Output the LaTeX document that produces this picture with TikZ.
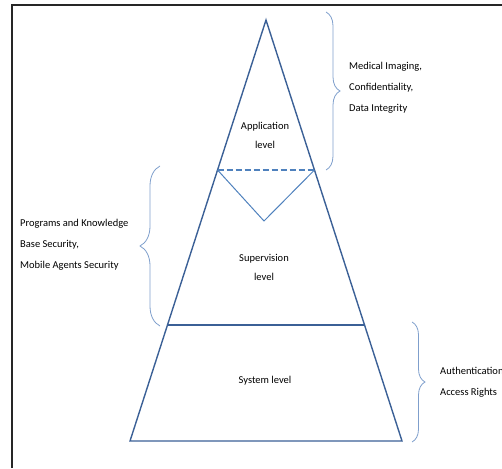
\documentclass[tikz,border=0pt]{standalone}
\usepackage{fontspec}
\setmainfont{Carlito}
\usetikzlibrary{calc,decorations.pathreplacing}
\definecolor{edge}{HTML}{3B6096}
\definecolor{lightedge}{HTML}{4F81BD}
\definecolor{bracecol}{HTML}{7F9FCC}
\tikzset{
  side/.style={draw=edge, line width=1.4pt, line join=miter},
  lvl/.style={font=\fontsize{10.5}{19}\selectfont, align=center, inner sep=0pt},
  note/.style={font=\fontsize{10.5}{21}\selectfont, align=left, anchor=west, inner sep=0pt},
  bracket/.style={draw=bracecol, line width=0.8pt, decorate, decoration={brace, amplitude=#1}},
  frame/.style={draw=black!85, line width=2pt}
}
\begin{document}
\begin{tikzpicture}[x=1pt, y=-1pt]
  \useasboundingbox (0,0) rectangle (502,468);
  % page frame
  \draw[frame] (12,468) -- (12,5) -- (503,5);

  % pyramid corners
  \coordinate (apex) at (266,20);
  \coordinate (bl) at (130,441);
  \coordinate (br) at (402,441);
  % level boundaries on the sides
  \coordinate (sl) at ($(apex)!0.7245!(bl)$);
  \coordinate (sr) at ($(apex)!0.7245!(br)$);
  \coordinate (al) at ($(apex)!0.3563!(bl)$);
  \coordinate (ar) at ($(apex)!0.3563!(br)$);
  \coordinate (vtip) at (264,221);

  \draw[side] (apex) -- (bl) -- (br) -- cycle;
  \draw[side] (sl) -- (sr);
  \draw[draw=lightedge, line width=1.2pt, dash pattern=on 6pt off 3pt] (al) -- (ar);
  \draw[draw=lightedge, line width=1pt] (al) -- (vtip) -- (ar);

  % level labels
  \node[lvl] (app) at (265,135) {Application\\level};
  \node[lvl] (sup) at (264,267) {Supervision\\level};
  \node[lvl] (sys) at (265,381) {System level};

  % braces
  \coordinate (b1a) at (326,12);
  \coordinate (b1b) at (326,170);
  \draw[bracket=14pt] (b1a) -- (b1b);
  \coordinate (b2a) at (160,166);
  \coordinate (b2b) at (160,326);
  \draw[bracket=20pt] (b2b) -- (b2a);
  \coordinate (b3a) at (412,322);
  \coordinate (b3b) at (412,442);
  \draw[bracket=13pt] (b3a) -- (b3b);

  % annotations
  \node[note] (n1) at (349,88) {Medical Imaging,\\Confidentiality,\\Data Integrity};
  \node[note] (n2) at (20,245) {Programs and Knowledge\\Base Security,\\Mobile Agents Security};
  \node[note] (n3) at (440,382) {Authentication\\Access Rights};
\end{tikzpicture}
\end{document}
